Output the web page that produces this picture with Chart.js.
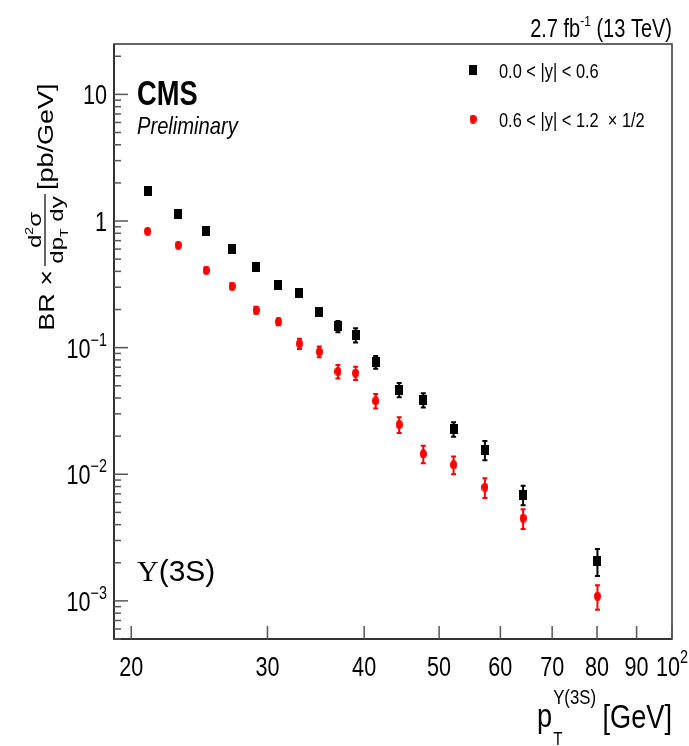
<!DOCTYPE html>
<html>
<head>
<meta charset="utf-8">
<title>Upsilon(3S) cross section</title>
<script src="https://cdn.jsdelivr.net/npm/chart.js@4.4.1/dist/chart.umd.min.js"></script>
<style>
html, body { margin: 0; padding: 0; background: #fff; }
#grafico { display: block; }
</style>
</head>
<body>
<canvas id="grafico" width="689" height="746"></canvas>
<script>
/*global Chart*/

// pT bin centres [GeV]
var ptCentres = [21, 23, 25, 27, 29, 31, 33, 35, 37, 39, 41.4, 44.4, 47.7, 52.2, 57.3, 64.2, 80.1];

// 0.0 < |y| < 0.6
var xsCentral = [1.73, 1.14, 0.84, 0.60, 0.435, 0.31, 0.268, 0.19, 0.147, 0.126, 0.077, 0.0465, 0.0387, 0.0228, 0.0156, 0.0069, 0.00207];
var errCentral = [0.07, 0.046, 0.034, 0.024, 0.017, 0.012, 0.0135, 0.011, 0.015, 0.016, 0.009, 0.006, 0.005, 0.003, 0.0027, 0.0012, 0.0005];

// 0.6 < |y| < 1.2 (x 1/2)
var xsForward = [0.83, 0.645, 0.409, 0.306, 0.198, 0.16, 0.1075, 0.093, 0.065, 0.063, 0.038, 0.0247, 0.0145, 0.0119, 0.0079, 0.0045, 0.00109];
var errForward = [0.033, 0.026, 0.02, 0.015, 0.012, 0.01, 0.01, 0.009, 0.008, 0.0075, 0.005, 0.0035, 0.0023, 0.0019, 0.0014, 0.0008, 0.00024];

var seriesLabels = ["0.0 < |y| < 0.6", "0.6 < |y| < 1.2  \u00d7 1/2"];

// axis ticks
var xTickValues = [20, 30, 40, 50, 60, 70, 80, 90, 100];
var xTickLabels = [["20", ""], ["30", ""], ["40", ""], ["50", ""], ["60", ""], ["70", ""], ["80", ""], ["90", ""], ["10", "2"]];
var yTickValues = [10, 1, 0.1, 0.01, 0.001];
var yTickLabels = [["10", ""], ["1", ""], ["10", "\u22121"], ["10", "\u22122"], ["10", "\u22123"]];

var FONT = "'Liberation Sans', Arial, sans-serif";

function makeMarker(w, h, colour, round) {
    "use strict";
    var c = document.createElement("canvas");
    var g = c.getContext("2d");
    c.width = w;
    c.height = h;
    g.fillStyle = colour;
    if (round) {
        g.beginPath();
        g.ellipse(w / 2, h / 2, w / 2, h / 2, 0, 0, 2 * Math.PI);
        g.fill();
    } else {
        g.fillRect(0, 0, w, h);
    }
    return c;
}

var squareMarker = makeMarker(8, 10, "#000000", false);
var roundMarker = makeMarker(7, 9, "#ff0000", true);

// draw a run of text pieces [text, font, dy] squeezed along the text direction
function drawParts(ctx, parts, x, y, align, squeeze) {
    "use strict";
    var total = 0;
    var widths = [];
    parts.forEach(function (p) {
        ctx.font = p[1];
        var w = ctx.measureText(p[0]).width;
        widths.push(w);
        total += w;
    });
    var start = x;
    if (align === "right") {
        start = x - total * squeeze;
    } else if (align === "center") {
        start = x - total * squeeze / 2;
    }
    ctx.save();
    ctx.translate(start, y);
    ctx.scale(squeeze, 1);
    ctx.textAlign = "left";
    ctx.textBaseline = "alphabetic";
    var cx = 0;
    parts.forEach(function (p, i) {
        ctx.font = p[1];
        ctx.fillText(p[0], cx, p[2] || 0);
        cx += widths[i];
    });
    ctx.restore();
    return total * squeeze;
}

function pairs(values) {
    "use strict";
    return ptCentres.map(function (x, i) {
        return {x: x, y: values[i]};
    });
}

var rootStyle = {
    id: "rootStyle",
    beforeDatasetsDraw: function (chart) {
        "use strict";
        var ctx = chart.ctx;
        var yScale = chart.scales.y;
        chart.data.datasets.forEach(function (ds, i) {
            var meta = chart.getDatasetMeta(i);
            ctx.save();
            ctx.strokeStyle = ds.borderColor;
            ctx.lineWidth = 2;
            meta.data.forEach(function (el, j) {
                var v = ds.data[j].y;
                var e = ds.errors[j];
                var top = yScale.getPixelForValue(v + e);
                var bot = yScale.getPixelForValue(v - e);
                ctx.beginPath();
                ctx.moveTo(el.x, top);
                ctx.lineTo(el.x, bot);
                ctx.moveTo(el.x - 2.5, top);
                ctx.lineTo(el.x + 2.5, top);
                ctx.moveTo(el.x - 2.5, bot);
                ctx.lineTo(el.x + 2.5, bot);
                ctx.stroke();
            });
            ctx.restore();
        });
    },
    afterDraw: function (chart) {
        "use strict";
        var ctx = chart.ctx;
        var a = chart.chartArea;
        var xs = chart.scales.x;
        var ys = chart.scales.y;
        var sq = 0.8;

        ctx.save();
        // frame
        ctx.strokeStyle = "#333333";
        ctx.lineWidth = 1.5;
        ctx.strokeRect(a.left, a.top, a.right - a.left, a.bottom - a.top);
        ctx.lineWidth = 2;
        ctx.beginPath();
        ctx.moveTo(a.left, a.top);
        ctx.lineTo(a.left, a.bottom);
        ctx.lineTo(a.right, a.bottom);
        ctx.stroke();

        // y ticks: majors and minors
        ctx.strokeStyle = "#555555";
        ctx.lineWidth = 1.5;
        ys.ticks.forEach(function (t) {
            var py = ys.getPixelForValue(t.value);
            var len = yTickValues.indexOf(t.value) >= 0 ? 14 : 7;
            ctx.beginPath();
            ctx.moveTo(a.left, py);
            ctx.lineTo(a.left + len, py);
            ctx.stroke();
        });
        // x ticks
        xs.ticks.forEach(function (t) {
            var px = xs.getPixelForValue(t.value);
            ctx.beginPath();
            ctx.moveTo(px, a.bottom);
            ctx.lineTo(px, a.bottom - 13);
            ctx.stroke();
        });

        ctx.fillStyle = "#000000";
        // y tick labels
        yTickValues.forEach(function (v, i) {
            var py = ys.getPixelForValue(v);
            var lab = yTickLabels[i];
            drawParts(ctx, [[lab[0], "27px " + FONT, 0], [lab[1], "18px " + FONT, -12]], a.left - 7, py + 10, "right", sq);
        });
        // x tick labels
        xTickValues.forEach(function (v, i) {
            var px = xs.getPixelForValue(v);
            var lab = xTickLabels[i];
            drawParts(ctx, [[lab[0], "27px " + FONT, 0], [lab[1], "18px " + FONT, -13]], px, a.bottom + 37, "center", sq);
        });

        // luminosity label
        drawParts(ctx, [["2.7 fb", "25px " + FONT, 0], ["-1", "15px " + FONT, -11], [" (13 TeV)", "25px " + FONT, 0]], a.right, 37, "right", sq);

        // CMS Preliminary
        drawParts(ctx, [["CMS", "bold 35px " + FONT, 0]], 137, 105, "left", 0.78);
        drawParts(ctx, [["Preliminary", "italic 24px " + FONT, 0]], 137, 134, "left", 0.84);

        // Upsilon(3S)
        drawParts(ctx, [["\u03a5", "30px 'Liberation Serif', serif", 0], ["(3S)", "30px " + FONT, 0]], 137, 581, "left", 1);

        // legend
        ctx.drawImage(squareMarker, 473 - 4, 70 - 5);
        ctx.drawImage(roundMarker, 473 - 3.5, 119 - 4.5);
        drawParts(ctx, [[seriesLabels[0], "20px " + FONT, 0]], 499, 78, "left", 0.82);
        drawParts(ctx, [[seriesLabels[1], "20px " + FONT, 0]], 499, 127, "left", 0.82);

        // x axis title
        var tf = "34px " + FONT;
        var sf = "21px " + FONT;
        var bf = "19px " + FONT;
        var x0 = 537;
        var pw = drawParts(ctx, [["p", tf, 0]], x0, 727, "left", sq);
        drawParts(ctx, [["T", bf, 0]], x0 + pw + 1, 745, "left", sq);
        drawParts(ctx, [["\u03a5(3S)", sf, 0]], x0 + pw + 1, 704, "left", sq);
        drawParts(ctx, [[" [GeV]", tf, 0]], a.right, 728, "right", sq);

        // y axis title (rotated, glyph height squeezed)
        ctx.translate(45, 230);
        ctx.rotate(-Math.PI / 2);
        ctx.scale(1, 0.8);
        var yf = "27px " + FONT;
        var ff = "24px " + FONT;
        var fsf = "14px " + FONT;
        drawParts(ctx, [["BR \u00d7", yf, 0]], -40, 11, "right", 1);
        drawParts(ctx, [["d", ff, 0], ["2", fsf, -10], ["\u03c3", ff, 0]], 0, -5, "center", 1);
        ctx.strokeStyle = "#000000";
        ctx.lineWidth = 1.5;
        ctx.beginPath();
        ctx.moveTo(-36, 0);
        ctx.lineTo(36, 0);
        ctx.stroke();
        drawParts(ctx, [["dp", ff, 0], ["T", fsf, 7], [" dy", ff, 0]], 0, 22, "center", 1);
        drawParts(ctx, [["[pb/GeV]", yf, 0]], 40, 10, "left", 1);
        ctx.restore();
    }
};

var yMinorTicks = [];
[0.0001, 0.001, 0.01, 0.1, 1, 10].forEach(function (d) {
    "use strict";
    [2, 3, 4, 5, 6, 7, 8, 9].forEach(function (m) {
        var v = Number((d * m).toPrecision(3));
        if (v >= 0.0005 && v <= 25) {
            yMinorTicks.push(v);
        }
    });
});

document.addEventListener("DOMContentLoaded", function () {
    "use strict";
    var canvas = document.getElementById("grafico");
    new Chart(canvas, {
        type: "scatter",
        data: {
            datasets: [{
                label: seriesLabels[0],
                data: pairs(xsCentral),
                errors: errCentral,
                borderColor: "#000000",
                backgroundColor: "#000000",
                pointStyle: squareMarker,
                pointRadius: 5,
                pointHoverRadius: 5
            }, {
                label: seriesLabels[1],
                data: pairs(xsForward),
                errors: errForward,
                borderColor: "#ff0000",
                backgroundColor: "#ff0000",
                pointStyle: roundMarker,
                pointRadius: 5,
                pointHoverRadius: 5
            }]
        },
        options: {
            responsive: false,
            animation: false,
            events: [],
            layout: {
                padding: {left: 114, top: 44, right: 17, bottom: 107}
            },
            plugins: {
                legend: {display: false},
                tooltip: {enabled: false}
            },
            scales: {
                x: {
                    type: "logarithmic",
                    min: 19,
                    max: 100,
                    grid: {display: false, drawTicks: false},
                    border: {display: false},
                    ticks: {display: false},
                    afterBuildTicks: function (scale) {
                        scale.ticks = xTickValues.map(function (v) {
                            return {value: v};
                        });
                    }
                },
                y: {
                    type: "logarithmic",
                    min: 0.0005,
                    max: 25,
                    grid: {display: false, drawTicks: false},
                    border: {display: false},
                    ticks: {display: false},
                    afterBuildTicks: function (scale) {
                        scale.ticks = yTickValues.concat(yMinorTicks).map(function (v) {
                            return {value: v};
                        });
                    }
                }
            }
        },
        plugins: [rootStyle]
    });
});
</script>
</body>
</html>
